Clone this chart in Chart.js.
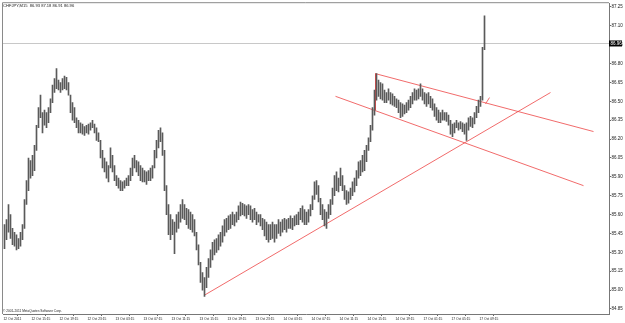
<!DOCTYPE html>
<html>
<head>
<meta charset="utf-8">
<script src="https://cdn.jsdelivr.net/npm/chart.js@4.4.0/dist/chart.umd.min.js"></script>
<style>
    body { margin: 0; background: #fff; }
</style>
</head>
<body>
<canvas id="grafico" width="625" height="323"></canvas>
<script>
const simbolo = 'CHFJPY,M15'
const ultimaVela = [86.93, 87.18, 86.91, 86.96] // open, high, low, close
const precioActual = 86.96

const highs = [
    85.52, 85.56, 85.68, 85.60, 85.49, 85.46, 85.44, 85.41, 85.46, 85.52,
    85.72, 85.87, 86.05, 86.03, 86.07, 86.15, 86.31, 86.45, 86.55, 86.41,
    86.43, 86.41, 86.45, 86.52, 86.63, 86.68, 86.76, 86.67, 86.65, 86.68,
    86.70, 86.69, 86.65, 86.55, 86.49, 86.45, 86.37, 86.35, 86.33, 86.32,
    86.30, 86.31, 86.32, 86.33, 86.35, 86.32, 86.29, 86.25, 86.19, 86.11,
    86.05, 86.02, 85.99, 86.13, 86.07, 85.99, 85.91, 85.89, 85.87, 85.86,
    85.87, 85.89, 85.91, 85.97, 86.05, 86.07, 86.03, 86.02, 85.99, 85.97,
    85.95, 85.94, 85.95, 85.97, 85.99, 86.11, 86.19, 86.27, 86.29, 86.25,
    86.11, 85.83, 85.68, 85.60, 85.56, 85.54, 85.60, 85.62, 85.68, 85.72,
    85.68, 85.65, 85.64, 85.62, 85.60, 85.56, 85.46, 85.36, 85.22, 85.14,
    85.10, 85.18, 85.25, 85.32, 85.38, 85.40, 85.41, 85.44, 85.46, 85.51,
    85.56, 85.57, 85.59, 85.60, 85.62, 85.60, 85.62, 85.67, 85.70, 85.69,
    85.68, 85.67, 85.68, 85.67, 85.64, 85.65, 85.62, 85.60, 85.60, 85.57,
    85.56, 85.54, 85.52, 85.52, 85.54, 85.52, 85.52, 85.56, 85.54, 85.56,
    85.57, 85.56, 85.57, 85.59, 85.57, 85.59, 85.60, 85.62, 85.65, 85.67,
    85.64, 85.62, 85.64, 85.68, 85.75, 85.86, 85.87, 85.83, 85.73, 85.68,
    85.64, 85.62, 85.68, 85.72, 85.81, 85.91, 85.94, 85.89, 85.97, 85.91,
    85.83, 85.79, 85.78, 85.81, 85.86, 85.89, 85.95, 86.02, 86.03, 86.07,
    86.11, 86.15, 86.21, 86.31, 86.45, 86.59, 86.72, 86.67, 86.65, 86.64,
    86.59, 86.57, 86.60, 86.57, 86.56, 86.54, 86.52, 86.51, 86.49, 86.48,
    86.47, 86.49, 86.51, 86.54, 86.57, 86.60, 86.59, 86.60, 86.64, 86.60,
    86.57, 86.56, 86.57, 86.54, 86.52, 86.48, 86.45, 86.43, 86.41, 86.43,
    86.41, 86.41, 86.39, 86.35, 86.32, 86.33, 86.35, 86.33, 86.34, 86.33,
    86.32, 86.33, 86.37, 86.38, 86.37, 86.41, 86.46, 86.51, 86.54, 86.93,
    87.18
]
const lows = [
    85.33, 85.40, 85.46, 85.41, 85.36, 85.35, 85.32, 85.33, 85.35, 85.40,
    85.49, 85.68, 85.79, 85.89, 85.91, 85.95, 86.11, 86.29, 86.37, 86.25,
    86.31, 86.29, 86.33, 86.41, 86.49, 86.57, 86.60, 86.59, 86.57, 86.59,
    86.60, 86.59, 86.55, 86.41, 86.35, 86.33, 86.29, 86.25, 86.25, 86.24,
    86.23, 86.25, 86.24, 86.27, 86.29, 86.25, 86.19, 86.18, 86.05, 85.97,
    85.94, 85.89, 85.86, 85.97, 85.94, 85.87, 85.83, 85.81, 85.79, 85.79,
    85.81, 85.83, 85.83, 85.87, 85.91, 85.97, 85.94, 85.91, 85.87, 85.86,
    85.86, 85.84, 85.87, 85.87, 85.89, 85.97, 86.05, 86.13, 86.18, 86.07,
    85.79, 85.60, 85.44, 85.40, 85.44, 85.29, 85.46, 85.49, 85.54, 85.57,
    85.56, 85.52, 85.49, 85.48, 85.46, 85.43, 85.32, 85.20, 85.06, 85.00,
    84.95, 85.02, 85.10, 85.18, 85.24, 85.28, 85.30, 85.32, 85.35, 85.38,
    85.43, 85.46, 85.48, 85.49, 85.52, 85.51, 85.54, 85.56, 85.59, 85.60,
    85.59, 85.57, 85.60, 85.56, 85.54, 85.56, 85.52, 85.54, 85.51, 85.48,
    85.43, 85.40, 85.38, 85.40, 85.41, 85.38, 85.41, 85.45, 85.43, 85.46,
    85.48, 85.46, 85.49, 85.49, 85.48, 85.51, 85.52, 85.52, 85.56, 85.54,
    85.52, 85.52, 85.54, 85.59, 85.64, 85.72, 85.76, 85.70, 85.60, 85.56,
    85.51, 85.49, 85.57, 85.60, 85.68, 85.75, 85.79, 85.78, 85.83, 85.79,
    85.72, 85.68, 85.69, 85.72, 85.75, 85.78, 85.83, 85.89, 85.91, 85.94,
    85.95, 86.02, 86.11, 86.18, 86.27, 86.39, 86.51, 86.54, 86.52, 86.51,
    86.49, 86.49, 86.51, 86.48, 86.47, 86.46, 86.45, 86.41, 86.37, 86.38,
    86.40, 86.41, 86.43, 86.45, 86.48, 86.51, 86.51, 86.52, 86.54, 86.51,
    86.48, 86.46, 86.48, 86.45, 86.43, 86.38, 86.35, 86.33, 86.33, 86.35,
    86.35, 86.34, 86.31, 86.24, 86.22, 86.25, 86.29, 86.27, 86.28, 86.26,
    86.24, 86.19, 86.27, 86.30, 86.29, 86.32, 86.37, 86.41, 86.46, 86.51,
    86.91
]

// etiquetas de tiempo y la barra donde cae cada una
const etiquetasTiempo = [
    '12 Oct 2011', '12 Oct 15:15', '12 Oct 19:15', '12 Oct 23:15', '13 Oct 03:15', '13 Oct 07:15',
    '13 Oct 11:15', '13 Oct 15:15', '13 Oct 19:15', '13 Oct 23:15', '14 Oct 03:15', '14 Oct 07:15',
    '14 Oct 11:15', '14 Oct 15:15', '14 Oct 19:15', '17 Oct 01:15', '17 Oct 05:15', '17 Oct 09:15'
]
const barrasTiempo = [-0.5, 13.5, 27.5, 41.5, 55.5, 69.5, 83.5, 97.5, 111.5, 125.5, 139.5, 153.5, 167.5, 181.5, 195.5, 209.5, 223.5, 237.5]
const ticksPrecio = [84.85, 85.00, 85.15, 85.30, 85.45, 85.60, 85.75, 85.90, 86.05, 86.20, 86.35, 86.50, 86.65, 86.80, 86.95, 87.10, 87.25]

// lineas dibujadas (barra, precio)
const tendenciaAlcista = [[100, 84.96], [273, 86.57]]
const canalSuperior = [[185.5, 86.72], [294.5, 86.26]]
const canalInferior = [[165.5, 86.54], [289.5, 85.83]]
const canalVertical = [[185.5, 86.72], [185.5, 86.43]]
const flecha = [[240.5, 86.48], [242.5, 86.53]]

const rojo = 'rgba(238,70,70,0.8)'
const linea = (pts) => ({
    type: 'line',
    data: pts.map(p => ({ x: p[0], y: p[1] })),
    borderColor: rojo,
    borderWidth: 1,
    pointRadius: 0,
    fill: false
})

const extras = {
    id: 'extras',
    beforeDatasetsDraw(chart) {
        const { ctx, chartArea } = chart
        const y = Math.round(chart.scales.y.getPixelForValue(precioActual)) + 0.5
        ctx.save()
        ctx.strokeStyle = '#c8c8c8'
        ctx.lineWidth = 1
        ctx.beginPath()
        ctx.moveTo(chartArea.left, y)
        ctx.lineTo(chartArea.right, y)
        ctx.stroke()
        ctx.restore()
    },
    afterDraw(chart) {
        const { ctx, chartArea } = chart
        ctx.save()
        ctx.strokeStyle = '#8a8a8a'
        ctx.lineWidth = 1
        ctx.beginPath()
        ctx.moveTo(chartArea.left - 0.5, chartArea.bottom)
        ctx.lineTo(chartArea.left - 0.5, chartArea.top - 0.5)
        ctx.lineTo(chartArea.right, chartArea.top - 0.5)
        ctx.stroke()

        ctx.fillStyle = '#222'
        ctx.textBaseline = 'top'
        ctx.font = '4.1px "Liberation Sans", Arial'
        ctx.fillText(simbolo + '  ' + ultimaVela.map(v => v.toFixed(2)).join(' '), 3, 3.5)
        ctx.textBaseline = 'bottom'
        ctx.font = '3.2px "Liberation Sans", Arial'
        ctx.fillText('\u00a9 2001-2011 MetaQuotes Software Corp.', 3, chartArea.bottom - 1.5)

        const y = chart.scales.y.getPixelForValue(precioActual)
        ctx.fillStyle = '#000'
        ctx.fillRect(chartArea.right, y - 3, 13, 6)
        ctx.fillStyle = '#fff'
        ctx.textBaseline = 'middle'
        ctx.font = '4.5px "Liberation Sans", Arial'
        ctx.fillText(precioActual.toFixed(2), chartArea.right + 1.5, y + 0.3)
        ctx.restore()
    }
}

const grafico = document.getElementById('grafico').getContext('2d')

new Chart(grafico, {
    type: 'bar',
    data: {
        datasets: [
            {
                data: highs.map((h, i) => ({ x: i, y: [lows[i], h] })),
                backgroundColor: '#5a5a5a',
                borderWidth: 0,
                barThickness: 1,
                grouped: false
            },
            linea(tendenciaAlcista),
            linea(canalSuperior),
            linea(canalInferior),
            linea(canalVertical),
            linea(flecha)
        ]
    },
    options: {
        responsive: false,
        animation: false,
        devicePixelRatio: 1,
        layout: { padding: { left: 3, top: 3, right: 0, bottom: 0 } },
        scales: {
            x: {
                type: 'linear',
                offset: false,
                min: -0.75,
                max: 302.25,
                afterBuildTicks: s => { s.ticks = barrasTiempo.map(v => ({ value: v })) },
                afterFit: s => { s.height = 9 },
                grid: { display: true, drawOnChartArea: false, drawTicks: true, tickLength: 2, color: '#666' },
                border: { display: true, color: '#777' },
                ticks: {
                    autoSkip: false,
                    maxRotation: 0,
                    minRotation: 0,
                    align: 'start',
                    padding: 1,
                    color: '#222',
                    font: { family: 'Liberation Sans', size: 3.3 },
                    callback: (v, i) => etiquetasTiempo[i]
                }
            },
            y: {
                position: 'right',
                min: 84.81,
                max: 87.28,
                afterBuildTicks: s => { s.ticks = ticksPrecio.map(v => ({ value: v })) },
                afterFit: s => { s.width = 16 },
                grid: { display: true, drawOnChartArea: false, drawTicks: true, tickLength: 2, color: '#666' },
                border: { display: true, color: '#777' },
                ticks: {
                    padding: 0.5,
                    color: '#222',
                    font: { family: 'Liberation Sans', size: 4.5 },
                    callback: v => v.toFixed(2)
                }
            }
        },
        plugins: {
            legend: { display: false },
            tooltip: { enabled: false }
        }
    },
    plugins: [extras]
});
</script>
</body>
</html>
